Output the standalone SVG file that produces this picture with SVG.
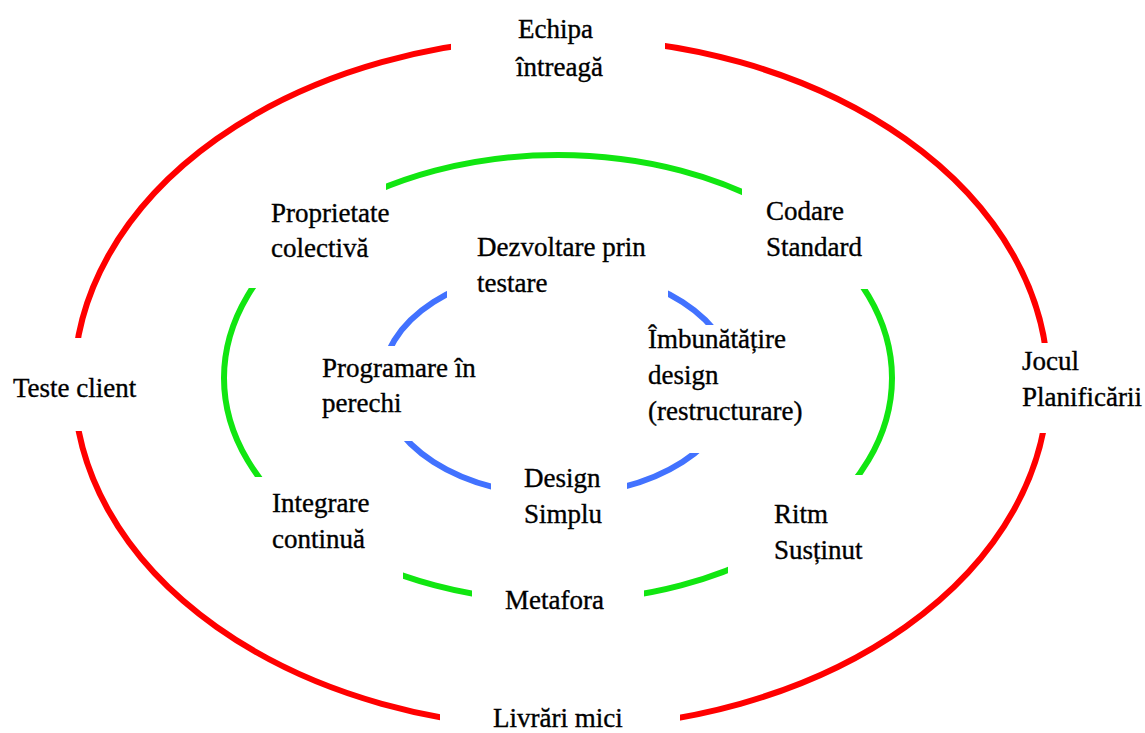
<svg xmlns="http://www.w3.org/2000/svg" width="1145" height="733" viewBox="0 0 1145 733">
<style>
.ring{fill:none;stroke-width:6}
.red{stroke:#ff0000}
.green{stroke:#11e611}
.blue{stroke:#4272ff}
text{font-family:"Liberation Serif","Times New Roman",serif;font-size:27px;fill:#000;stroke:#000;stroke-width:0.35}
</style>
<defs>
<mask id="gaps" maskUnits="userSpaceOnUse" x="0" y="0" width="1145" height="733">
<rect x="0" y="0" width="1145" height="733" fill="#fff"/>
<rect x="451" y="0" width="214" height="90" fill="#000"/>
<rect x="1000" y="343" width="145" height="90" fill="#000"/>
<rect x="440" y="690" width="240" height="43" fill="#000"/>
<rect x="0" y="338" width="150" height="93" fill="#000"/>
<rect x="200" y="175" width="186" height="113" fill="#000"/>
<rect x="742" y="185" width="180" height="104" fill="#000"/>
<rect x="200" y="477" width="203" height="115" fill="#000"/>
<rect x="472" y="565" width="172" height="60" fill="#000"/>
<rect x="728" y="475" width="190" height="125" fill="#000"/>
<rect x="447" y="240" width="221" height="60" fill="#000"/>
<rect x="360" y="346" width="80" height="95" fill="#000"/>
<rect x="491" y="455" width="136" height="50" fill="#000"/>
<rect x="680" y="325" width="90" height="128" fill="#000"/>
</mask>
</defs>
<rect x="0" y="0" width="1145" height="733" fill="#fff"/>
<g id="rings" mask="url(#gaps)">
<ellipse class="ring red" cx="561" cy="383" rx="487" ry="345"/>
<ellipse class="ring green" cx="558" cy="378" rx="334" ry="223"/>
<ellipse class="ring blue" cx="558" cy="382" rx="176" ry="113"/>
</g>
<g id="echipa"><text x="518" y="38">Echipa</text><text x="516" y="76">întreagă</text></g>
<g id="proprietate"><text x="271" y="222">Proprietate</text><text x="271" y="257">colectivă</text></g>
<g id="codare"><text x="766" y="220">Codare</text><text x="766" y="256">Standard</text></g>
<g id="dezvoltare"><text x="477" y="256">Dezvoltare prin</text><text x="477" y="292">testare</text></g>
<g id="imbunatatire"><text x="648" y="348">Îmbunătățire</text><text x="648" y="384">design</text><text x="648" y="420">(restructurare)</text></g>
<g id="programare"><text x="322" y="377">Programare în</text><text x="322" y="412">perechi</text></g>
<g id="teste"><text x="13" y="397">Teste client</text></g>
<g id="jocul"><text x="1022" y="370">Jocul</text><text x="1022" y="406">Planificării</text></g>
<g id="design"><text x="524" y="487">Design</text><text x="524" y="523">Simplu</text></g>
<g id="integrare"><text x="272" y="512">Integrare</text><text x="272" y="548">continuă</text></g>
<g id="ritm"><text x="774" y="523">Ritm</text><text x="774" y="559">Susținut</text></g>
<g id="metafora"><text x="505" y="609">Metafora</text></g>
<g id="livrari"><text x="493" y="727">Livrări mici</text></g>
</svg>
